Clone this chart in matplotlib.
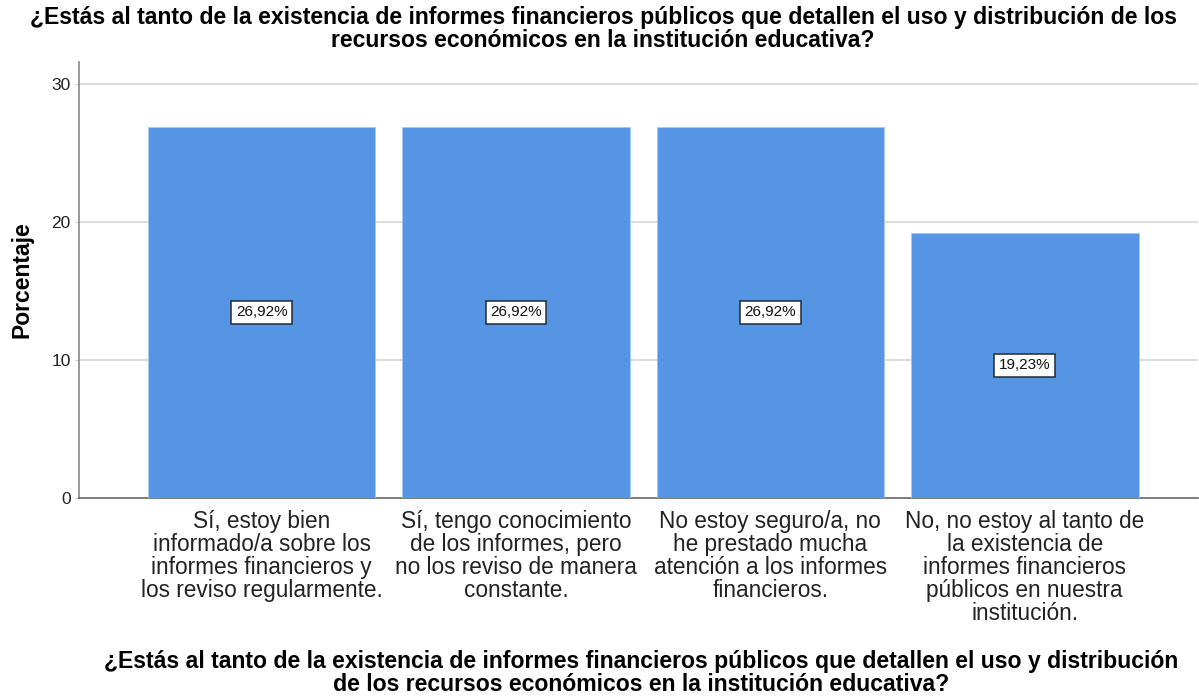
import numpy as np
import matplotlib
matplotlib.use("Agg")
import matplotlib.pyplot as plt

plt.rcParams['font.family'] = ['Liberation Sans', 'DejaVu Sans']

# data
categories = [
    "Sí, estoy bien\ninformado/a sobre los\ninformes financieros y\nlos reviso regularmente.",
    "Sí, tengo conocimiento\nde los informes, pero\nno los reviso de manera\nconstante.",
    "No estoy seguro/a, no\nhe prestado mucha\natención a los informes\nfinancieros.",
    "No, no estoy al tanto de\nla existencia de\ninformes financieros\npúblicos en nuestra\ninstitución.",
]
porcentajes = [26.92, 26.92, 26.92, 19.23]
yticks = [0, 10, 20, 30]
titulo = ("¿Estás al tanto de la existencia de informes financieros públicos que detallen el uso y distribución de los\n"
          "recursos económicos en la institución educativa?")
xtitulo = ("¿Estás al tanto de la existencia de informes financieros públicos que detallen el uso y distribución\n"
           "de los recursos económicos en la institución educativa?")

fig = plt.figure(figsize=(11.99, 6.96), dpi=100)
ax = fig.add_axes([0.0659, 0.2845, 0.933, 0.6265])

x = np.arange(len(categories))
ax.bar(x, porcentajes, width=0.895, color='#5595e3', edgecolor='#a9c8f0', linewidth=0.6, zorder=3)

# etiquetas de valor en el centro de cada barra
for xi, v in zip(x, porcentajes):
    ax.text(xi, v / 2, f"{v:.2f}%".replace('.', ','), ha='center', va='center', fontsize=11,
            color='#111111', zorder=4,
            bbox=dict(boxstyle='square,pad=0.3', facecolor='white', edgecolor='#222a33', linewidth=1.1))

ax.set_xlim(-0.718, 3.68)
ax.set_ylim(0, 31.6)
ax.set_yticks(yticks)
ax.set_yticklabels([str(t) for t in yticks], fontsize=12.5, color='#222222')
ax.set_xticks(x)
ax.set_xticklabels(categories, fontsize=16.3, color='#222222', linespacing=1.0)
ax.tick_params(axis='x', length=0, pad=9)
ax.tick_params(axis='y', length=3, color='#cccccc', pad=3)

for t in yticks[1:]:
    ax.axhline(t, color='#d6d6d6', linewidth=1.2, zorder=1)

ax.spines['top'].set_visible(False)
ax.spines['right'].set_visible(False)
ax.spines['left'].set_color('#888888')
ax.spines['bottom'].set_color('#666666')
ax.spines['left'].set_linewidth(1.2)
ax.spines['bottom'].set_linewidth(1.2)

ax.set_ylabel('Porcentaje', fontsize=16.5, fontweight='bold')
ax.yaxis.set_label_coords(-0.041, 0.5)
fig.text(0.503, 0.9585, titulo, ha='center', va='center', fontsize=16.6, fontweight='bold', linespacing=1.0)
fig.text(0.535, 0.033, xtitulo, ha='center', va='center', fontsize=16.6, fontweight='bold', linespacing=1.0)

fig.savefig('out.png', dpi=100)
